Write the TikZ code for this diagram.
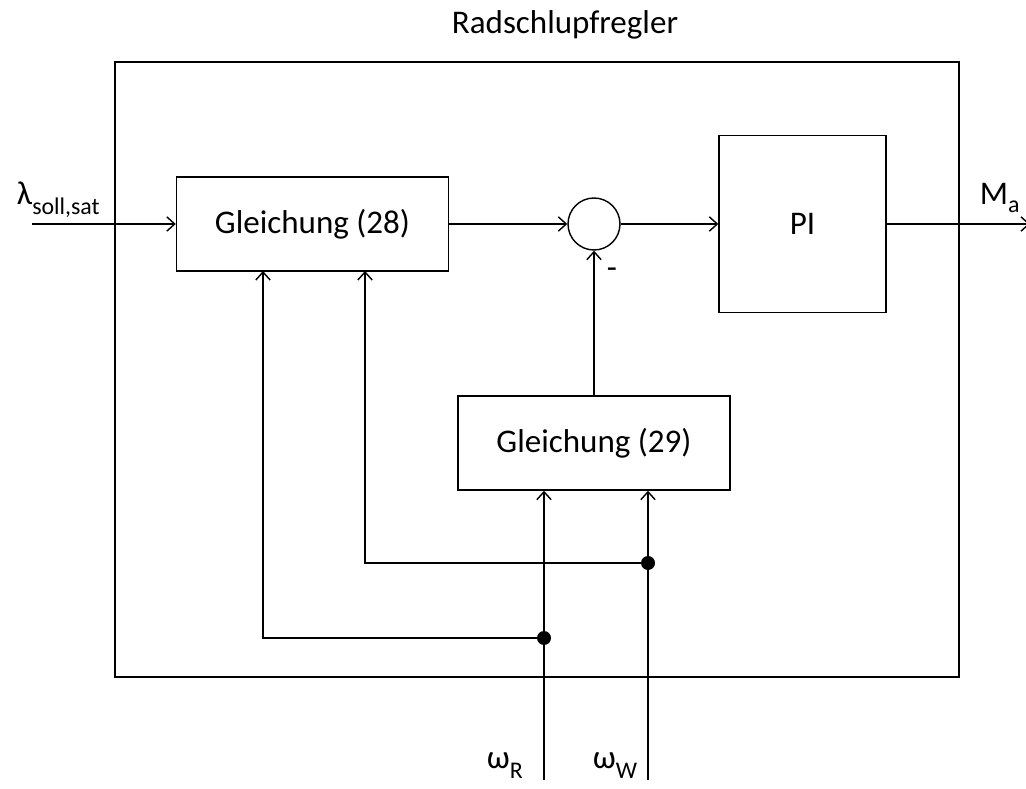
\documentclass[tikz,border=0pt]{standalone}
\usepackage{fontspec}
\setmainfont{Carlito}
\usetikzlibrary{arrows.meta,positioning,calc}

\begin{document}
\begin{tikzpicture}[
    font=\fontsize{23.5}{28}\selectfont,
    frame/.style={draw, line width=1.8pt, minimum width=21.1cm, minimum height=15.375cm, inner sep=0pt},
    block/.style={draw, line width=1pt, minimum width=6.8cm, minimum height=2.35cm, inner sep=0pt},
    sumnode/.style={draw, circle, line width=1pt, minimum size=1.3cm, inner sep=0pt},
    junction/.style={circle, fill, inner sep=0pt, minimum size=0.35cm},
    arr/.style={-{Straight Barb[length=2mm,width=3.6mm]}, line width=1pt}
]
\useasboundingbox (0,0) rectangle (25.65,-19.725);
\node[frame] (rsr) at (13.425,-9.2375) {};
\node (title) at (14.125,-0.625) {Radschlupfregler};
\node[block] (g28) at (7.8125,-5.6) {Gleichung (28)};
\node[sumnode] (sum) at (14.85,-5.6) {};
\node[block, minimum width=4.175cm, minimum height=4.425cm] (pi) at (20.0625,-5.6) {PI};
\node[block] (g29) at (14.85,-11.075) {Gleichung (29)};
\node (minus) at (15.3,-6.825) {-};
\coordinate (lin) at (0.8,-5.6);
\coordinate (mout) at (25.75,-5.6);
\coordinate (wR) at (13.6,-19.5);
\coordinate (wW) at (16.2,-19.5);
\coordinate (g28inR) at (6.575,-6.775);
\coordinate (g28inW) at (9.125,-6.775);
\node[junction] (jR) at (13.6,-15.95) {};
\node[junction] (jW) at (16.2,-14.075) {};
\node[anchor=base west] (lam) at (0.3,-5.125) {λ\raisebox{-0.25cm}{\fontsize{17}{20}\selectfont soll,sat}};
\node[anchor=base west] (ma) at (24.375,-5.125) {M\raisebox{-0.2cm}{\fontsize{17}{20}\selectfont a}};
\node[anchor=base west] (omr) at (12.05,-19.2) {ω\raisebox{-0.25cm}{\fontsize{17}{20}\selectfont R}};
\node[anchor=base west] (omw) at (14.7,-19.2) {ω\raisebox{-0.25cm}{\fontsize{17}{20}\selectfont W}};
\draw[arr] (lin) -- (g28.west);
\draw[arr] (g28) -- (sum);
\draw[arr] (sum) -- (pi);
\draw[arr] (pi) -- (mout);
\draw[arr] (g29) -- (sum);
\draw[arr] (wR) -- (wR |- g29.south);
\draw[arr] (wW) -- (wW |- g29.south);
\draw[arr] (jW.center) -| (g28inW);
\draw[arr] (jR.center) -| (g28inR);
\end{tikzpicture}
\end{document}
